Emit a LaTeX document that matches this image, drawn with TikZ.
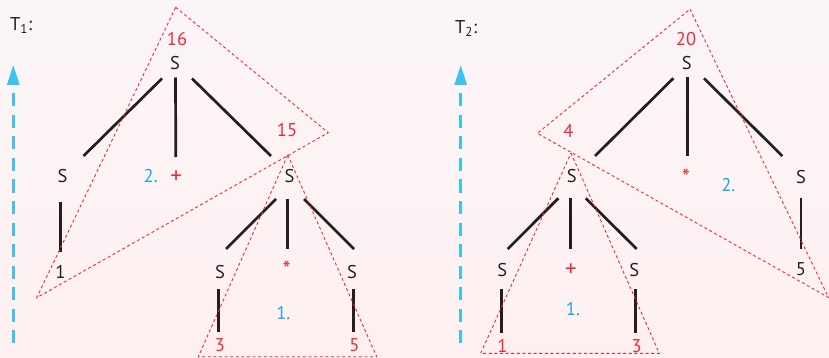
\documentclass[tikz,border=0pt]{standalone}
\usepackage{fontspec}
\setmainfont{PT Sans}
\usetikzlibrary{arrows.meta}
\definecolor{ink}{HTML}{231F20}
\definecolor{hl}{HTML}{EE2B3B}
\definecolor{stepblue}{HTML}{1BA9E1}
\definecolor{riseblue}{HTML}{3CC3F1}
\definecolor{bgtop}{HTML}{FBF5F7}
\definecolor{bgbot}{HTML}{FEF0F1}
\begin{document}
\begin{tikzpicture}[x=1pt,y=-1pt,
  every node/.style={inner sep=0pt,font=\fontsize{18.5}{22}\selectfont},
  sym/.style={text=ink},
  val/.style={text=hl},
  opsym/.style={text=hl,font=\fontsize{23}{26}\selectfont},
  stepno/.style={text=stepblue},
  branch/.style={ink,line width=2.7pt},
  hull/.style={hl,line width=0.9pt,dash pattern=on 3pt off 2.6pt},
  rise/.style={riseblue,line width=2.8pt,dash pattern=on 13pt off 8.5pt,
    -{Triangle[width=12pt,length=20pt]}}]
  % pale background, fixes the page size
  \shade[top color=bgtop,bottom color=bgbot] (0,0) rectangle (829,358);
  \useasboundingbox (0,0) rectangle (829,358);

  % ---------- T1 ----------
  \node[sym,anchor=base west] (t1) at (10,30.5) {T\textsubscript{1}:};
  \coordinate (foot1) at (13.3,343);
  \coordinate (tip1) at (13.3,65);
  \draw[rise] (foot1) -- (tip1);
  % nodes of the tree
  \node[val] (w16) at (177,39) {16};
  \node[sym] (r1) at (175,63.5) {S};
  \node[sym] (a1) at (62.5,176.5) {S};
  \node[opsym] (p1) at (176.3,177) {+};
  \node[stepno] (s2) at (150.7,176.3) {2.};
  \node[sym] (b1) at (289.5,176.3) {S};
  \node[val] (w15) at (287,130) {15};
  \node[sym] (n1) at (60.5,272) {1};
  \node[sym] (c1) at (220,272.5) {S};
  \node[opsym] (m1) at (286.7,269.6) {*};
  \node[sym] (d1) at (352,272.5) {S};
  \node[stepno] (s1) at (283.3,313) {1.};
  \node[val] (k3) at (220,345.3) {3};
  \node[val] (k5) at (354.5,345) {5};
  % branches
  \draw[branch] ([shift={(-13,15)}]r1.center) -- ([shift={(21,-20.5)}]a1.center);
  \draw[branch] ([shift={(0.5,14)}]r1.center) -- ([shift={(-0.5,-20)}]p1.center);
  \draw[branch] ([shift={(17,15)}]r1.center) -- ([shift={(-18.5,-20.3)}]b1.center);
  \draw[branch] ([shift={(-1.8,25)}]a1.center) -- ([shift={(0.2,-20.3)}]n1.center);
  \draw[branch] ([shift={(-13.5,22.7)}]b1.center) -- ([shift={(6,-23.5)}]c1.center);
  \draw[branch] ([shift={(-2.2,23)}]b1.center) -- ([shift={(0.6,-20.3)}]m1.center);
  \draw[branch] ([shift={(14.5,22.7)}]b1.center) -- ([shift={(2,-23.5)}]d1.center);
  \draw[branch] ([shift={(-1.7,16.5)}]c1.center) -- ([shift={(-1.7,-13)}]k3.center);
  \draw[branch] ([shift={(1.3,16.5)}]d1.center) -- ([shift={(-1.2,-12.7)}]k5.center);
  % dotted hulls
  \draw[hull] (175.7,7.3) -- (328.3,132.7) -- (36.7,297.7) -- cycle;
  \draw[hull] (287.7,155) -- (376.7,356.7) -- (198.3,356.7) -- cycle;

  % ---------- T2 ----------
  \node[sym,anchor=base west] (t2) at (455,33.5) {T\textsubscript{2}:};
  \coordinate (foot2) at (460.7,343);
  \coordinate (tip2) at (460.7,65);
  \draw[rise] (foot2) -- (tip2);
  % nodes of the tree
  \node[val] (w20) at (686,39) {20};
  \node[sym] (r2) at (686.7,63.3) {S};
  \node[val] (w4) at (568.3,130.7) {4};
  \node[sym] (a2) at (571.7,176.5) {S};
  \node[opsym] (m2) at (686,177.6) {*};
  \node[stepno] (s2b) at (728.3,185) {2.};
  \node[sym] (b2) at (801,176.7) {S};
  \node[sym] (n5) at (801,269) {5};
  \node[sym] (c2) at (502.3,270.3) {S};
  \node[opsym] (p2) at (571,270) {+};
  \node[sym] (d2) at (634.3,270.3) {S};
  \node[stepno] (s1b) at (573,308.8) {1.};
  \node[val] (k1) at (502.3,345.7) {1};
  \node[val] (k3b) at (636.7,345.7) {3};
  % branches
  \draw[branch] ([shift={(-13.4,15)}]r2.center) -- ([shift={(23.3,-20.5)}]a2.center);
  \draw[branch] ([shift={(0.6,14)}]r2.center) -- ([shift={(1.3,-21.6)}]m2.center);
  \draw[branch] ([shift={(17.3,15)}]r2.center) -- ([shift={(-18.7,-20.7)}]b2.center);
  \draw[branch] ([shift={(0,21.6)}]b2.center) -- ([shift={(0,-20.3)}]n5.center);
  \draw[branch] ([shift={(-13.4,21.8)}]a2.center) -- ([shift={(5.4,-21.3)}]c2.center);
  \draw[branch] ([shift={(-1,21.8)}]a2.center) -- ([shift={(-0.3,-21)}]p2.center);
  \draw[branch] ([shift={(14,21.8)}]a2.center) -- ([shift={(2.4,-21.3)}]d2.center);
  \draw[branch] ([shift={(-0.6,19)}]c2.center) -- ([shift={(-0.6,-13)}]k1.center);
  \draw[branch] ([shift={(1,19)}]d2.center) -- ([shift={(-1.4,-13)}]k3b.center);
  % dotted hulls
  \draw[hull] (690,9.3) -- (828.5,297.5) -- (537.3,133.3) -- cycle;
  \draw[hull] (571,153) -- (659.3,353.3) -- (480.7,353.3) -- cycle;
\end{tikzpicture}
\end{document}
